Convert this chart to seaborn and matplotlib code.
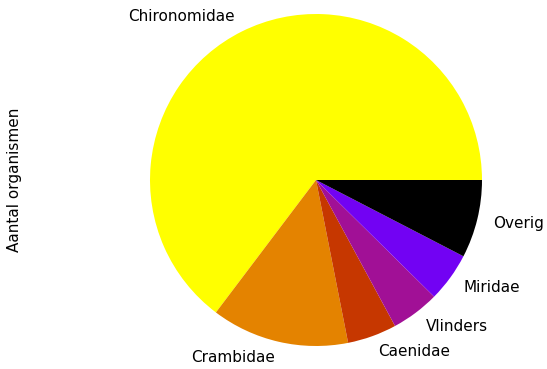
import numpy as np
import matplotlib
matplotlib.use("Agg")
import matplotlib.pyplot as plt
import seaborn as sns

sns.set_style("white")
plt.rcParams["font.family"] = ["DejaVu Sans"]
plt.rcParams["text.color"] = "black"
plt.rcParams["axes.labelcolor"] = "black"

# Organism counts per group
groepen = ["Chironomidae", "Crambidae", "Caenidae", "Vlinders", "Miridae", "Overig"]
aantallen = [647, 134, 48, 47, 48, 76]

kleuren = plt.get_cmap("gnuplot_r")(np.linspace(0, 1, len(groepen)))

fig = plt.figure(figsize=(5.47, 3.69), dpi=100)
W, H = 547, 369
cx, cy, r = 316, 180, 166
ax = fig.add_axes([(cx - r) / W, (H - cy - r) / H, 2 * r / W, 2 * r / H])

ax.pie(aantallen, labels=groepen, colors=kleuren, labeldistance=1.1,
       wedgeprops={"linewidth": 0}, textprops={"fontsize": 11, "color": "black"})
ax.set_xlim(-1, 1)
ax.set_ylim(-1, 1)
ax.set_aspect("equal")
ax.set_ylabel("Aantal organismen", fontsize=11, color="black")
ax.yaxis.set_label_coords((22 - (cx - r)) / (2 * r), 0.5)

fig.savefig("out.png", dpi=100)
